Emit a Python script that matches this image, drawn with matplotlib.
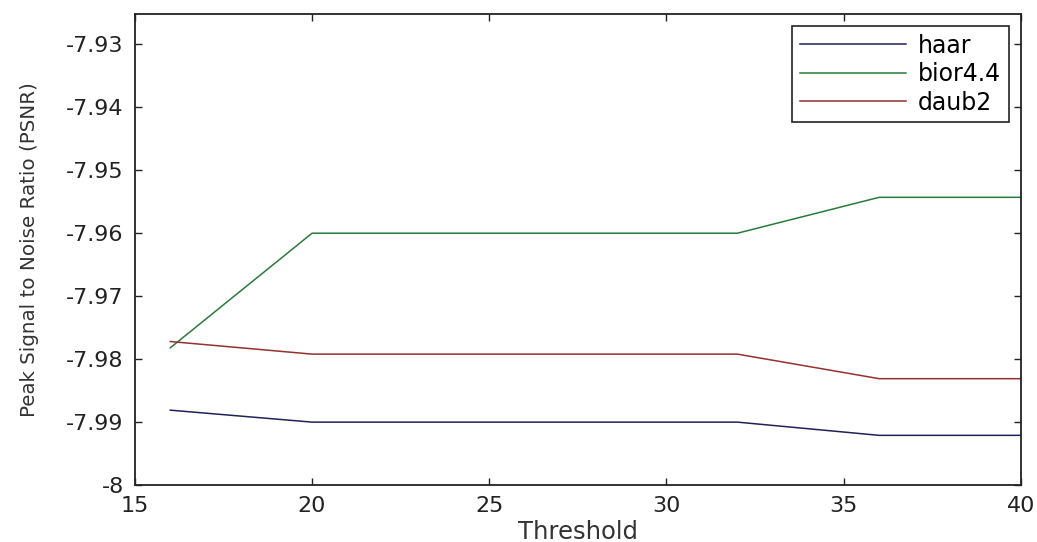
import matplotlib
matplotlib.use("Agg")
import matplotlib.pyplot as plt

plt.rcParams['font.family'] = ['DejaVu Sans']

# data
threshold = [16, 20, 32, 36, 40]
haar = [-7.9881, -7.9900, -7.9900, -7.9921, -7.9921]
bior44 = [-7.9782, -7.9600, -7.9600, -7.9543, -7.9543]
daub2 = [-7.9772, -7.9792, -7.9792, -7.9831, -7.9831]

xticks = [15, 20, 25, 30, 35, 40]
yticks = [-8, -7.99, -7.98, -7.97, -7.96, -7.95, -7.94, -7.93]
ytick_labels = ['-8', '-7.99', '-7.98', '-7.97', '-7.96', '-7.95', '-7.94', '-7.93']

fig = plt.figure(figsize=(10.37, 5.42), dpi=100)
ax = fig.add_axes([0.130, 0.105, 0.8545, 0.869])

ax.plot(threshold, haar, color='#20205a', linewidth=1.1, label='haar')
ax.plot(threshold, bior44, color='#2a7a3a', linewidth=1.1, label='bior4.4')
ax.plot(threshold, daub2, color='#963030', linewidth=1.1, label='daub2')

ax.set_xlim(15, 40)
ax.set_ylim(-8, -7.9252)
ax.set_xticks(xticks)
ax.set_xticklabels([str(t) for t in xticks])
ax.set_yticks(yticks)
ax.set_yticklabels(ytick_labels)

ax.tick_params(direction='in', top=True, right=True, length=5, width=1,
               labelsize=16, colors='#222222')
ax.tick_params(axis='y', pad=8)
ax.tick_params(axis='x', pad=8)
for s in ax.spines.values():
    s.set_linewidth(1.3)
    s.set_color('#222222')

ax.set_xlabel('Threshold', fontsize=17.5, color='#333333')
ax.xaxis.set_label_coords(0.5, -0.074)
ax.set_ylabel('Peak Signal to Noise Ratio (PSNR)', fontsize=14.3, color='#333333')
ax.yaxis.set_label_coords(-0.108, 0.5)

leg = ax.legend(loc='upper right', fontsize=17, handlelength=4.5, handletextpad=0.5,
                borderaxespad=0.5, borderpad=0.33, labelspacing=0.19, fancybox=False,
                edgecolor='#222222', framealpha=1)
leg.get_frame().set_linewidth(1.2)

fig.savefig('out.png', dpi=100)
